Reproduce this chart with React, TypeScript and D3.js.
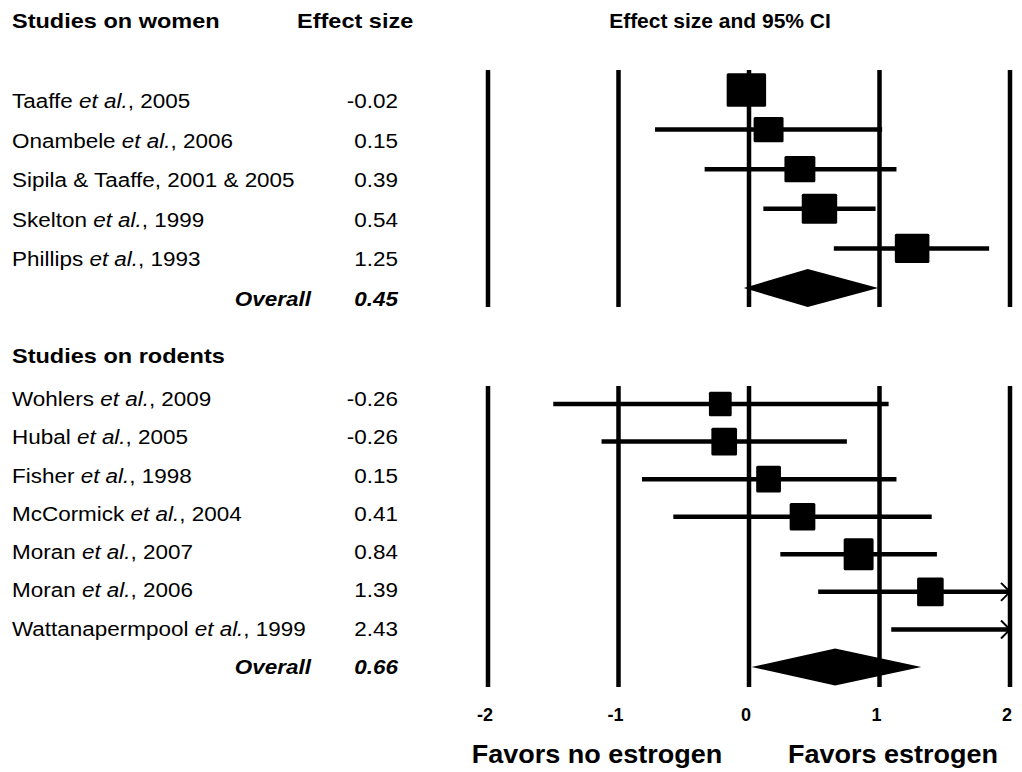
import * as d3 from 'd3'
import { useEffect, useRef } from 'react'

// women panel
const womenStudies = ['Taaffe et al., 2005', 'Onambele et al., 2006', 'Sipila & Taaffe, 2001 & 2005', 'Skelton et al., 1999', 'Phillips et al., 1993']
const womenEffect = ['-0.02', '0.15', '0.39', '0.54', '1.25']
const womenPoint = [-0.02, 0.15, 0.39, 0.54, 1.25]
const womenLower: (number | null)[] = [null, -0.72, -0.34, 0.11, 0.65]
const womenUpper: (number | null)[] = [null, 1.02, 1.13, 0.97, 1.84]
const womenWeight = [26, 15, 16, 21, 20]
const womenOverall = [0.45, -0.04, 0.99] // estimate, lower, upper

// rodent panel
const rodentStudies = ['Wohlers et al., 2009', 'Hubal et al., 2005', 'Fisher et al., 1998', 'McCormick et al., 2004', 'Moran et al., 2007', 'Moran et al., 2006', 'Wattanapermpool et al., 1999']
const rodentEffect = ['-0.26', '-0.26', '0.15', '0.41', '0.84', '1.39', '2.43']
const rodentPoint = [-0.22, -0.19, 0.15, 0.41, 0.84, 1.39, 2.43]
const rodentLower: (number | null)[] = [-1.5, -1.13, -0.82, -0.58, 0.24, 0.53, 1.09]
const rodentUpper: (number | null)[] = [1.07, 0.75, 1.13, 1.4, 1.44, 2.6, 3.8]
const rodentWeight = [11, 14, 13, 14, 19, 15, 15]
const rodentOverall = [0.66, 0.02, 1.32]

const axisTicks = [-2, -1, 0, 1, 2]

const FONT = "'Liberation Sans', Arial, sans-serif"
const SX = 1.07

const App = () => {
    const svgRef = useRef<SVGSVGElement>(null)

    useEffect(() => {
        const svg = d3.select(svgRef.current)
        svg.selectAll('*').remove()

        const x = d3.scaleLinear().domain([-2, 2]).range([488, 1010])
        const size = d3.scaleSqrt().domain([0, 26]).range([0, 36.3])

        const txt = (g: any, tx: number, ty: number, s: string, o: any = {}) => {
            const t = g.append('text')
                .attr('transform', `translate(${tx},${ty}) scale(${o.sx ?? SX},1)`)
                .attr('font-family', FONT)
                .attr('font-size', o.size ?? 21)
                .attr('font-weight', o.bold ? 'bold' : 'normal')
                .attr('font-style', o.italic ? 'italic' : 'normal')
                .attr('text-anchor', o.anchor ?? 'start')
                .attr('fill', '#000')
            const parts = s.split('et al.')
            if (parts.length === 2) {
                t.append('tspan').text(parts[0])
                t.append('tspan').attr('font-style', 'italic').text('et al.')
                t.append('tspan').text(parts[1])
            } else {
                t.text(s)
            }
            return t
        }

        const panel = (opts: any) => {
            const g = svg.append('g')
            const n = opts.studies.length
            const row = d3.scaleLinear().domain([0, n]).range(opts.rowRange)
            const textRow = d3.scaleLinear().domain([0, n]).range(opts.textRange)

            // vertical reference lines
            g.selectAll('line.ref').data(axisTicks).join('line')
                .attr('x1', d => x(d)).attr('x2', d => x(d))
                .attr('y1', opts.lineTop).attr('y2', opts.lineBottom)
                .attr('stroke', '#000').attr('stroke-width', 4.5)

            const idx = d3.range(n)

            // confidence intervals
            const ci = idx.filter(i => opts.lower[i] != null)
            g.selectAll('line.ci').data(ci).join('line')
                .attr('x1', i => x(Math.max(-2, opts.lower[i])))
                .attr('x2', i => x(Math.min(2, opts.upper[i])))
                .attr('y1', i => row(i)).attr('y2', i => row(i))
                .attr('stroke', '#000').attr('stroke-width', 4.5)

            // arrows for CIs running off the scale
            g.selectAll('path.arrow').data(ci.filter(i => opts.upper[i] > 2)).join('path')
                .attr('d', i => `M${x(2) - 9},${row(i) - 9}L${x(2)},${row(i)}L${x(2) - 9},${row(i) + 9}`)
                .attr('fill', 'none').attr('stroke', '#000').attr('stroke-width', 2)

            // squares, sized by weight
            const pts = idx.filter(i => opts.point[i] <= 2)
            const w = (i: number) => size(opts.weight[i]) * Math.sqrt(opts.aspect)
            const h = (i: number) => size(opts.weight[i]) / Math.sqrt(opts.aspect)
            g.selectAll('rect.pt').data(pts).join('rect')
                .attr('x', i => x(opts.point[i]) - w(i) / 2)
                .attr('y', i => row(i) - h(i) / 2)
                .attr('width', w)
                .attr('height', h)
                .attr('rx', 1.5)
                .attr('fill', '#000')

            // overall diamond
            const [est, lo, hi] = opts.overall
            const yc = row(n)
            const hh = opts.diamondHalf
            g.append('path')
                .attr('d', `M${x(lo)},${yc}L${x(est)},${yc - hh}L${x(hi)},${yc}L${x(est)},${yc + hh}Z`)
                .attr('fill', '#000')

            // text columns
            txt(g, 12, opts.headerY, opts.title, { bold: true, sx: 1.12 })
            idx.forEach(i => {
                txt(g, 12, textRow(i), opts.studies[i])
                txt(g, 398, textRow(i), opts.effect[i], { anchor: 'end' })
            })
            txt(g, 311, textRow(n), 'Overall', { bold: true, italic: true, anchor: 'end' })
            txt(g, 398, textRow(n), opts.overall[0].toFixed(2), { bold: true, italic: true, anchor: 'end' })
        }

        panel({
            title: 'Studies on women', headerY: 28,
            studies: womenStudies, effect: womenEffect, point: womenPoint,
            lower: womenLower, upper: womenUpper, weight: womenWeight, overall: womenOverall,
            rowRange: [90, 288], textRange: [108, 306], lineTop: 70, lineBottom: 307,
            diamondHalf: 19, aspect: 1.18
        })
        panel({
            title: 'Studies on rodents', headerY: 363,
            studies: rodentStudies, effect: rodentEffect, point: rodentPoint,
            lower: rodentLower, upper: rodentUpper, weight: rodentWeight, overall: rodentOverall,
            rowRange: [404, 667], textRange: [406, 674], lineTop: 386, lineBottom: 687,
            diamondHalf: 18.5, aspect: 0.93
        })

        // headers
        txt(svg, 297, 28, 'Effect size', { bold: true, sx: 1.12 })
        txt(svg, 720, 28, 'Effect size and 95% CI', { bold: true, anchor: 'middle', sx: 1.0 })

        // axis labels
        axisTicks.forEach(t => {
            txt(svg, x(t) - 3, 721, String(t), { bold: true, size: 18, anchor: 'middle', sx: 1.0 })
        })
        txt(svg, 597, 763, 'Favors no estrogen', { bold: true, size: 25, anchor: 'middle', sx: 1.08 })
        txt(svg, 893, 763, 'Favors estrogen', { bold: true, size: 25, anchor: 'middle', sx: 1.08 })
    }, [])

    return (
        <svg ref={svgRef} width={1022} height={772}
            style={{ position: 'absolute', left: 0, top: 0, background: '#fff' }} />
    )
}

export default App
